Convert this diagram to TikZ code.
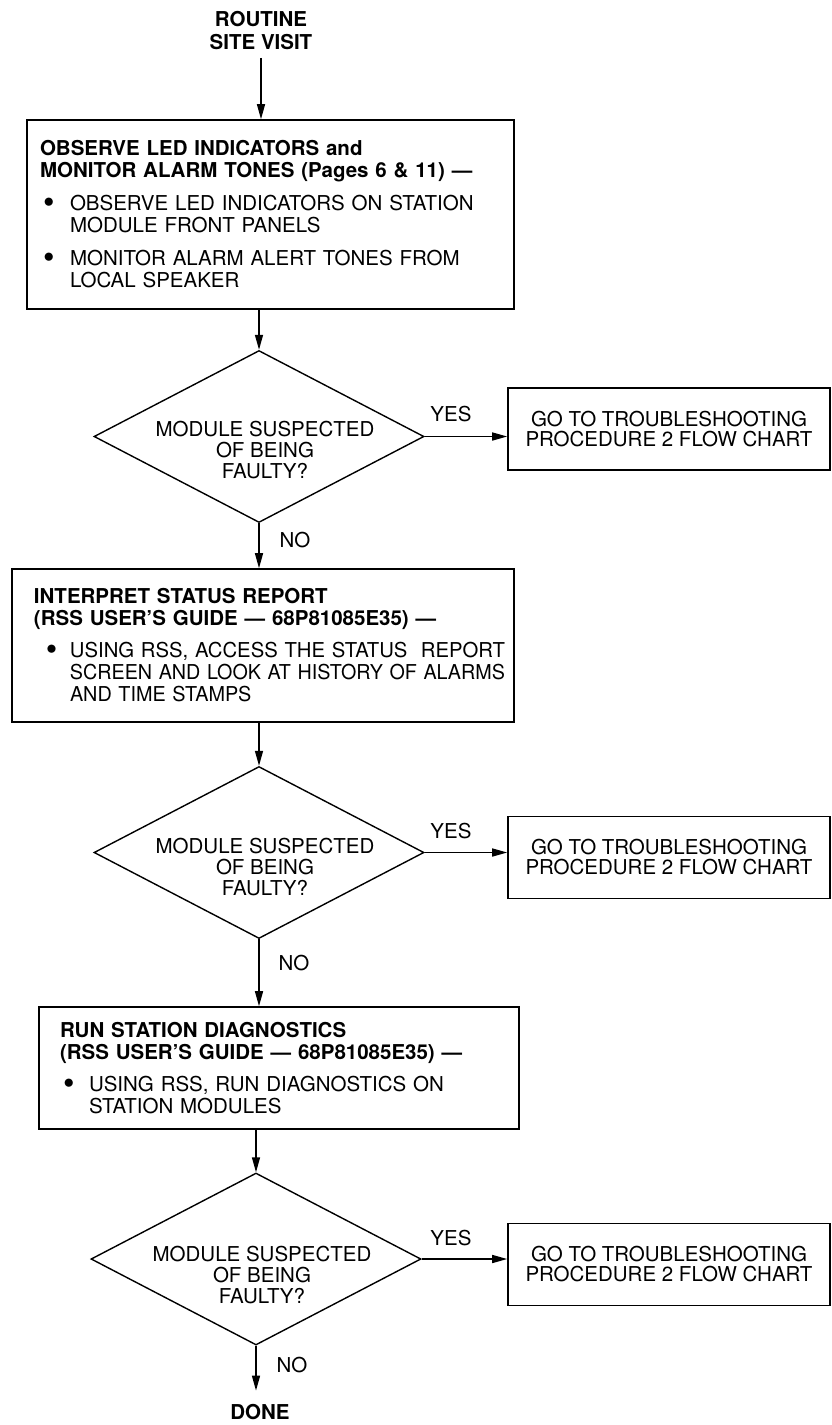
\documentclass[tikz,border=0pt]{standalone}
\usepackage{fontspec}
\setmainfont{TeX Gyre Heros}
\usetikzlibrary{shapes.geometric,arrows.meta}
\newcommand\bigbul{\raisebox{-2.6pt}{\scalebox{1.6}{\textbullet}}}
\begin{document}
\begin{tikzpicture}[x=1pt,y=-1pt,
  every node/.style={inner sep=0pt,font=\fontsize{20.5}{22}\selectfont},
  arr/.style={line width=1.5pt,-{Triangle[length=15pt,width=8pt]}},
  titletext/.style={align=center,font=\fontsize{20.5}{23}\selectfont\bfseries},
  procbox/.style={draw,line width=1.6pt,rectangle,align=left,font=\fontsize{20.5}{22}\selectfont},
  gobox/.style={draw,line width=1.6pt,rectangle,minimum width=322pt,minimum height=82pt,align=center,font=\fontsize{20.5}{20}\selectfont},
  decision/.style={draw,line width=1.4pt,diamond,minimum width=330pt,minimum height=172pt},
  dtext/.style={align=center,font=\fontsize{20.5}{21}\selectfont},
  answer/.style={font=\fontsize{20.5}{22}\selectfont}
]
\useasboundingbox (0,0) rectangle (831,1425);

% start
\node[titletext] (start) at (261,30.5) {ROUTINE\\SITE VISIT};

% box 1
\node[procbox,minimum width=487pt,minimum height=189pt,text width=461pt,inner xsep=13pt] (box1) at (270.5,214.5) {%
\mbox{\textbf{OBSERVE LED INDICATORS and}}\\
\mbox{\textbf{MONITOR ALARM TONES (Pages 6 \& 11) —}}\\[11pt]
\mbox{\hspace*{3pt}\makebox[27pt][l]{\bigbul}\makebox[431pt][s]{OBSERVE LED INDICATORS ON STATION}}\\
\mbox{\hspace*{30pt}MODULE FRONT PANELS}\\[11pt]
\mbox{\hspace*{3pt}\makebox[27pt][l]{\bigbul}MONITOR ALARM ALERT TONES FROM}\\
\mbox{\hspace*{30pt}LOCAL SPEAKER}};

% decision 1
\node[decision] (d1) at (259,436.5) {};
\node[dtext] (d1t) at (265,450.5) {MODULE SUSPECTED\\OF BEING\\FAULTY?};
\node[answer] (yes1) at (451,414.5) {YES};
\node[gobox] (y1) at (669,429) {GO TO TROUBLESHOOTING\\PROCEDURE 2 FLOW CHART};
\node[answer] (no1) at (295,540.5) {NO};

% box 2
\node[procbox,minimum width=502pt,minimum height=153pt,text width=458pt,inner xsep=22pt] (box2) at (263,645.5) {%
\mbox{\textbf{INTERPRET STATUS REPORT}}\\
\mbox{\textbf{(RSS USER’S GUIDE — 68P81085E35) —}}\\[10pt]
\mbox{\hspace*{12pt}\makebox[24pt][l]{\bigbul}\resizebox{435pt}{\height}{USING RSS, ACCESS THE STATUS\ \ REPORT}}\\
\mbox{\hspace*{36pt}\resizebox{435pt}{\height}{SCREEN AND LOOK AT HISTORY OF ALARMS}}\\
\mbox{\hspace*{36pt}\scalebox{0.967}[1]{AND TIME STAMPS}}};

% decision 2
\node[decision] (d2) at (259,852.5) {};
\node[dtext] (d2t) at (265,867) {MODULE SUSPECTED\\OF BEING\\FAULTY?};
\node[answer] (yes2) at (451,831.5) {YES};
\node[gobox] (y2) at (669,857.5) {GO TO TROUBLESHOOTING\\PROCEDURE 2 FLOW CHART};
\node[answer] (no2) at (294,963) {NO};

% box 3
\node[procbox,minimum width=480pt,minimum height=122pt,text width=438pt,inner xsep=21pt] (box3) at (279,1068) {%
\mbox{\textbf{RUN STATION DIAGNOSTICS}}\\
\mbox{\textbf{(RSS USER’S GUIDE — 68P81085E35) —}}\\[10pt]
\mbox{\hspace*{3pt}\makebox[26pt][l]{\bigbul}USING RSS, RUN DIAGNOSTICS ON}\\
\mbox{\hspace*{29pt}STATION MODULES}};

% decision 3
\node[decision] (d3) at (256,1259) {};
\node[dtext] (d3t) at (262,1275) {MODULE SUSPECTED\\OF BEING\\FAULTY?};
\node[answer] (yes3) at (451,1238.5) {YES};
\node[gobox] (y3) at (669,1264.5) {GO TO TROUBLESHOOTING\\PROCEDURE 2 FLOW CHART};
\node[answer] (no3) at (292,1365.5) {NO};

\node[titletext] (done) at (260,1412.5) {DONE};

% connectors
\draw[arr,shorten <=8pt] (start.south) -- (start.south |- box1.north);
\draw[arr] (d1.north |- box1.south) -- (d1.north);
\draw[arr] (d1.east) -- (y1.west |- d1.east);
\draw[arr] (d1.south) -- (d1.south |- box2.north);
\draw[arr] (d2.north |- box2.south) -- (d2.north);
\draw[arr] (d2.east) -- (y2.west |- d2.east);
\draw[arr] (d2.south) -- (d2.south |- box3.north);
\draw[arr] (d3.north |- box3.south) -- (d3.north);
\draw[arr] (d3.east) -- (y3.west |- d3.east);
\draw[arr,shorten >=14pt] (d3.south) -- (d3.south |- done.north);
\end{tikzpicture}
\end{document}
